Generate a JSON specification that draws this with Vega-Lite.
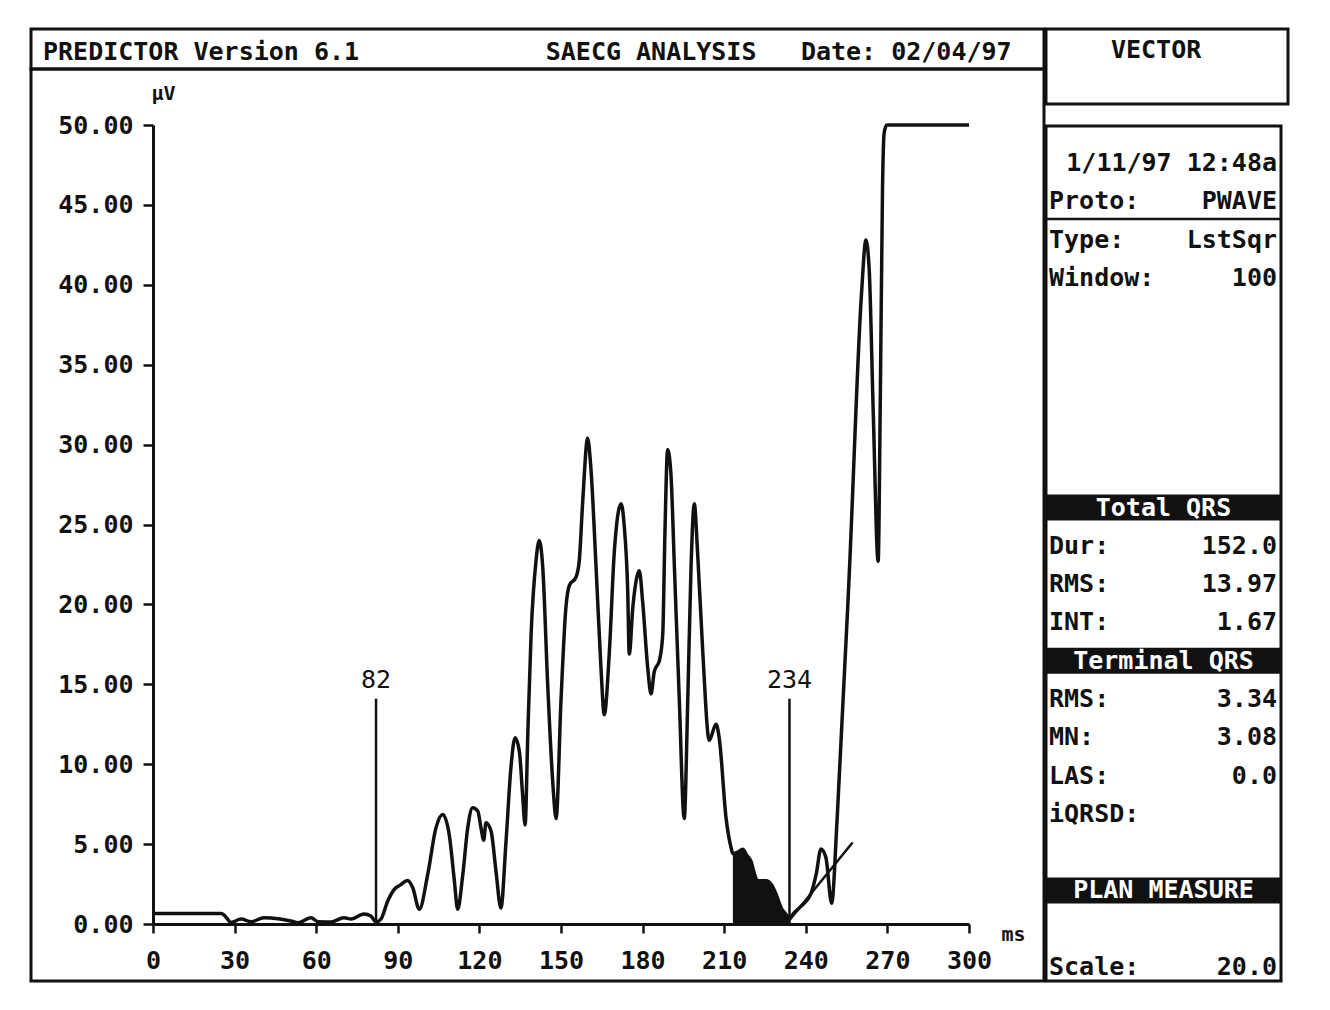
{
  "$schema": "https://vega.github.io/schema/vega-lite/v6.json",
  "background": "white",
  "padding": {"left": 29, "top": 27, "right": 0, "bottom": 0},
  "config": {
    "view": {"stroke": "#111", "strokeWidth": 3},
    "text": {"font": "DejaVu Sans Mono", "fontWeight": "bold", "fontSize": 25, "color": "#111"},
    "axis": {"labelFont": "DejaVu Sans Mono", "labelFontWeight": "bold", "labelFontSize": 25, "labelColor": "#111", "domainColor": "#111", "domainWidth": 3, "tickColor": "#111", "tickWidth": 2.5, "grid": false, "labelFlush": false, "labelOverlap": false, "titleFont": "DejaVu Sans Mono", "titleFontWeight": "bold", "titleFontSize": 20, "titleColor": "#111"}
  },
  "datasets": {
    "header": [
      {"item": "program", "text": "PREDICTOR Version 6.1"},
      {"item": "analysis", "text": "SAECG ANALYSIS"},
      {"item": "date", "text": "Date: 02/04/97"}
    ],
    "vector": [{"text": "VECTOR"}],
    "info": [
      {"line": 0, "value": "1/11/97 12:48a"},
      {"line": 1, "label": "Proto:", "value": "PWAVE"},
      {"line": 2, "label": "Type:", "value": "LstSqr"},
      {"line": 3, "label": "Window:", "value": "100"},
      {"line": 9, "heading": "Total QRS"},
      {"line": 10, "label": "Dur:", "value": "152.0"},
      {"line": 11, "label": "RMS:", "value": "13.97"},
      {"line": 12, "label": "INT:", "value": "1.67"},
      {"line": 13, "heading": "Terminal QRS"},
      {"line": 14, "label": "RMS:", "value": "3.34"},
      {"line": 15, "label": "MN:", "value": "3.08"},
      {"line": 16, "label": "LAS:", "value": "0.0"},
      {"line": 17, "label": "iQRSD:"},
      {"line": 19, "heading": "PLAN MEASURE"},
      {"line": 21, "label": "Scale:", "value": "20.0"}
    ],
    "markers": [{"t": 82, "label": "82"}, {"t": 234, "label": "234"}],
    "fit": [{"t": 233.8, "uv": 0.2}, {"t": 257.2, "uv": 5.1}],
    "ecg": [
      {"t": 0, "uv": 0.65}, {"t": 25, "uv": 0.65}, {"t": 26.5, "uv": 0.5}, {"t": 28.7, "uv": 0.1},
      {"t": 32.4, "uv": 0.31}, {"t": 36, "uv": 0.14}, {"t": 40.8, "uv": 0.39}, {"t": 46, "uv": 0.33},
      {"t": 50.7, "uv": 0.19}, {"t": 53.3, "uv": 0.08}, {"t": 58.1, "uv": 0.39}, {"t": 60.7, "uv": 0.14},
      {"t": 65.4, "uv": 0.12}, {"t": 70.2, "uv": 0.39}, {"t": 72.8, "uv": 0.31}, {"t": 77.6, "uv": 0.63},
      {"t": 80.1, "uv": 0.5}, {"t": 82, "uv": 0.12}, {"t": 83.8, "uv": 0.3}, {"t": 86.3, "uv": 1.44},
      {"t": 88.7, "uv": 2.17}, {"t": 91, "uv": 2.45}, {"t": 93.6, "uv": 2.73}, {"t": 95.5, "uv": 2.27},
      {"t": 97.9, "uv": 0.92}, {"t": 101, "uv": 3.1}, {"t": 104, "uv": 6.0}, {"t": 106.5, "uv": 6.86},
      {"t": 108.9, "uv": 5.6}, {"t": 110.8, "uv": 2.7}, {"t": 112, "uv": 0.92}, {"t": 113.9, "uv": 3.1},
      {"t": 115.7, "uv": 6.0}, {"t": 117.5, "uv": 7.28}, {"t": 119.4, "uv": 7.07}, {"t": 120.6, "uv": 6.0},
      {"t": 121.6, "uv": 5.24}, {"t": 122.4, "uv": 6.34}, {"t": 124.3, "uv": 5.8}, {"t": 126.1, "uv": 3.3},
      {"t": 127.9, "uv": 1.0}, {"t": 129.8, "uv": 5.2}, {"t": 131.6, "uv": 9.8}, {"t": 133.1, "uv": 11.66},
      {"t": 134.7, "uv": 10.8}, {"t": 135.8, "uv": 8.3}, {"t": 136.8, "uv": 6.2}, {"t": 137.8, "uv": 11.9},
      {"t": 139, "uv": 18.1}, {"t": 140.8, "uv": 22.7}, {"t": 142, "uv": 24.0}, {"t": 143.3, "uv": 22.3},
      {"t": 145.1, "uv": 15}, {"t": 147, "uv": 8.8}, {"t": 148.2, "uv": 6.6}, {"t": 150, "uv": 14},
      {"t": 151.8, "uv": 19.8}, {"t": 153.1, "uv": 21.2}, {"t": 155.5, "uv": 21.7}, {"t": 156.7, "uv": 22.7},
      {"t": 158, "uv": 26.5}, {"t": 159.8, "uv": 30.4}, {"t": 161, "uv": 28.5}, {"t": 162.9, "uv": 22.3},
      {"t": 164.7, "uv": 16}, {"t": 165.9, "uv": 13.1}, {"t": 167.8, "uv": 17.1}, {"t": 169.6, "uv": 23.3},
      {"t": 172.1, "uv": 26.3}, {"t": 173.3, "uv": 24.8}, {"t": 174.5, "uv": 21}, {"t": 175.1, "uv": 16.9},
      {"t": 176.4, "uv": 19.8}, {"t": 178.2, "uv": 21.9}, {"t": 178.8, "uv": 22.1}, {"t": 180, "uv": 20.2},
      {"t": 181.9, "uv": 16}, {"t": 183.1, "uv": 14.4}, {"t": 184.3, "uv": 15.8}, {"t": 186.2, "uv": 16.5},
      {"t": 187.4, "uv": 18.1}, {"t": 188.2, "uv": 24.4}, {"t": 189.2, "uv": 29.7}, {"t": 190.4, "uv": 28.2},
      {"t": 191.7, "uv": 22.3}, {"t": 193.5, "uv": 14}, {"t": 195.3, "uv": 6.6}, {"t": 196.6, "uv": 14},
      {"t": 197.8, "uv": 22.3}, {"t": 199, "uv": 26.3}, {"t": 200.2, "uv": 23.3}, {"t": 202.1, "uv": 17.1},
      {"t": 204.5, "uv": 11.5}, {"t": 207, "uv": 12.5}, {"t": 208.2, "uv": 11.6}, {"t": 210.7, "uv": 6.6},
      {"t": 212.5, "uv": 4.8}, {"t": 213.2, "uv": 4.4}, {"t": 215, "uv": 4.5}, {"t": 216.8, "uv": 4.67},
      {"t": 218.3, "uv": 4.3}, {"t": 219.9, "uv": 3.9}, {"t": 221, "uv": 3.2}, {"t": 222.3, "uv": 2.7},
      {"t": 225.4, "uv": 2.7}, {"t": 227.2, "uv": 2.5}, {"t": 229, "uv": 1.9}, {"t": 230.9, "uv": 1.02},
      {"t": 232.7, "uv": 0.6}, {"t": 233.8, "uv": 0.35}, {"t": 235.7, "uv": 0.7}, {"t": 238.2, "uv": 1.1},
      {"t": 241.9, "uv": 1.9}, {"t": 243.8, "uv": 3.1}, {"t": 245.6, "uv": 4.7}, {"t": 247.4, "uv": 4.15},
      {"t": 249.5, "uv": 1.3}, {"t": 251.5, "uv": 6.5}, {"t": 256, "uv": 22}, {"t": 260.5, "uv": 39.5},
      {"t": 262.1, "uv": 42.8}, {"t": 263.3, "uv": 41}, {"t": 264.8, "uv": 32}, {"t": 266.6, "uv": 22.7},
      {"t": 267.4, "uv": 33}, {"t": 268.2, "uv": 46}, {"t": 268.8, "uv": 49.5}, {"t": 269.8, "uv": 50},
      {"t": 300, "uv": 50}
    ]
  },
  "spacing": -3,
  "hconcat": [
    {
      "spacing": 0,
      "bounds": "flush",
      "vconcat": [
        {
          "width": 1013,
          "height": 40,
          "data": {"name": "header"},
          "layer": [
            {
              "transform": [{"filter": "datum.item == 'program'"}],
              "mark": {"type": "text", "align": "left", "baseline": "middle", "dy": 3},
              "encoding": {
                "x": {"datum": 0.8, "type": "quantitative", "scale": {"domain": [0, 67.5], "nice": false, "zero": false}, "axis": null},
                "text": {"field": "text"}
              }
            },
            {
              "transform": [{"filter": "datum.item == 'analysis'"}],
              "mark": {"type": "text", "align": "left", "baseline": "middle", "dy": 3},
              "encoding": {
                "x": {"datum": 34.3, "type": "quantitative", "axis": null},
                "text": {"field": "text"}
              }
            },
            {
              "transform": [{"filter": "datum.item == 'date'"}],
              "mark": {"type": "text", "align": "left", "baseline": "middle", "dy": 3},
              "encoding": {
                "x": {"datum": 51.3, "type": "quantitative", "axis": null},
                "text": {"field": "text"}
              }
            }
          ]
        },
        {
          "width": 1013,
          "height": 912,
          "layer": [
            {
              "data": {"name": "ecg"},
              "transform": [{"filter": "datum.t >= 213.2 && datum.t <= 233.8"}],
              "mark": {"type": "area", "color": "#111", "interpolate": "monotone"},
              "encoding": {
                "x": {"field": "t", "type": "quantitative",
                  "scale": {"domain": [0, 300], "range": [122, 938], "nice": false, "zero": false},
                  "axis": {"values": [0, 30, 60, 90, 120, 150, 180, 210, 240, 270, 300], "format": "d", "offset": -57, "tickSize": 9, "labelPadding": 15,
                    "title": "ms", "titleAngle": 0, "titleAlign": "left", "titleBaseline": "middle", "titleX": 970, "titleY": 10}},
                "y": {"field": "uv", "type": "quantitative",
                  "scale": {"domain": [0, 50], "range": [855, 56], "nice": false, "zero": false},
                  "axis": {"values": [0, 5, 10, 15, 20, 25, 30, 35, 40, 45, 50], "format": ".2f", "offset": -122, "tickSize": 10, "labelPadding": 10,
                    "title": "µV", "titleAngle": 0, "titleAlign": "left", "titleBaseline": "middle", "titleX": -2, "titleY": 24}}
              }
            },
            {
              "data": {"name": "ecg"},
              "mark": {"type": "line", "color": "#111", "strokeWidth": 3.5, "interpolate": "monotone", "strokeJoin": "round"},
              "encoding": {
                "x": {"field": "t", "type": "quantitative"},
                "y": {"field": "uv", "type": "quantitative"}
              }
            },
            {
              "data": {"name": "fit"},
              "mark": {"type": "line", "color": "#111", "strokeWidth": 2.5},
              "encoding": {
                "x": {"field": "t", "type": "quantitative"},
                "y": {"field": "uv", "type": "quantitative"}
              }
            },
            {
              "data": {"name": "markers"},
              "mark": {"type": "rule", "color": "#111", "strokeWidth": 2.5},
              "encoding": {
                "x": {"field": "t", "type": "quantitative"},
                "y": {"datum": 0, "type": "quantitative"},
                "y2": {"datum": 14.1}
              }
            },
            {
              "data": {"name": "markers"},
              "mark": {"type": "text", "fontWeight": "normal", "baseline": "middle", "align": "center"},
              "encoding": {
                "x": {"field": "t", "type": "quantitative"},
                "y": {"datum": 15.3, "type": "quantitative"},
                "text": {"field": "label"}
              }
            }
          ]
        }
      ]
    },
    {
      "spacing": 22,
      "bounds": "flush",
      "vconcat": [
        {
          "width": 242,
          "height": 75,
          "view": {"stroke": "#111", "strokeWidth": 3},
          "data": {"name": "vector"},
          "mark": {"type": "text", "baseline": "middle", "align": "center"},
          "encoding": {
            "x": {"datum": 0.455, "type": "quantitative", "scale": {"domain": [0, 1], "nice": false, "zero": false}, "axis": null},
            "y": {"datum": 0.72, "type": "quantitative", "scale": {"domain": [0, 1], "nice": false, "zero": false}, "axis": null},
            "text": {"field": "text"}
          }
        },
        {
          "width": 235,
          "height": 855,
          "data": {"name": "info"},
          "layer": [
            {
              "transform": [{"filter": "datum.heading"}],
              "mark": {"type": "rect", "color": "#111"},
              "encoding": {
                "y": {"field": "line", "type": "ordinal",
                  "scale": {"domain": [0,1,2,3,4,5,6,7,8,9,10,11,12,13,14,15,16,17,18,19,20,21], "paddingInner": 0.32, "paddingOuter": 0.3265, "align": 0.96},
                  "axis": null},
                "x": {"datum": 0, "type": "quantitative", "scale": {"domain": [0, 1], "nice": false, "zero": false}, "axis": null},
                "x2": {"datum": 1}
              }
            },
            {
              "transform": [{"filter": "datum.heading"}],
              "mark": {"type": "text", "color": "white", "align": "center", "baseline": "middle"},
              "encoding": {
                "y": {"field": "line", "type": "ordinal"},
                "x": {"datum": 0.5, "type": "quantitative"},
                "text": {"field": "heading"}
              }
            },
            {
              "transform": [{"filter": "datum.label"}],
              "mark": {"type": "text", "align": "left", "baseline": "middle", "dx": 3},
              "encoding": {
                "y": {"field": "line", "type": "ordinal"},
                "x": {"datum": 0, "type": "quantitative"},
                "text": {"field": "label"}
              }
            },
            {
              "transform": [{"filter": "datum.value"}],
              "mark": {"type": "text", "align": "right", "baseline": "middle", "dx": -4},
              "encoding": {
                "y": {"field": "line", "type": "ordinal"},
                "x": {"datum": 1, "type": "quantitative"},
                "text": {"field": "value"}
              }
            },
            {
              "transform": [{"filter": "datum.line == 1"}],
              "mark": {"type": "rule", "color": "#111", "strokeWidth": 2.5},
              "encoding": {
                "y": {"datum": 1, "type": "ordinal", "bandPosition": 1.18},
                "x": {"datum": 0, "type": "quantitative"},
                "x2": {"datum": 1}
              }
            }
          ]
        }
      ]
    }
  ]
}
